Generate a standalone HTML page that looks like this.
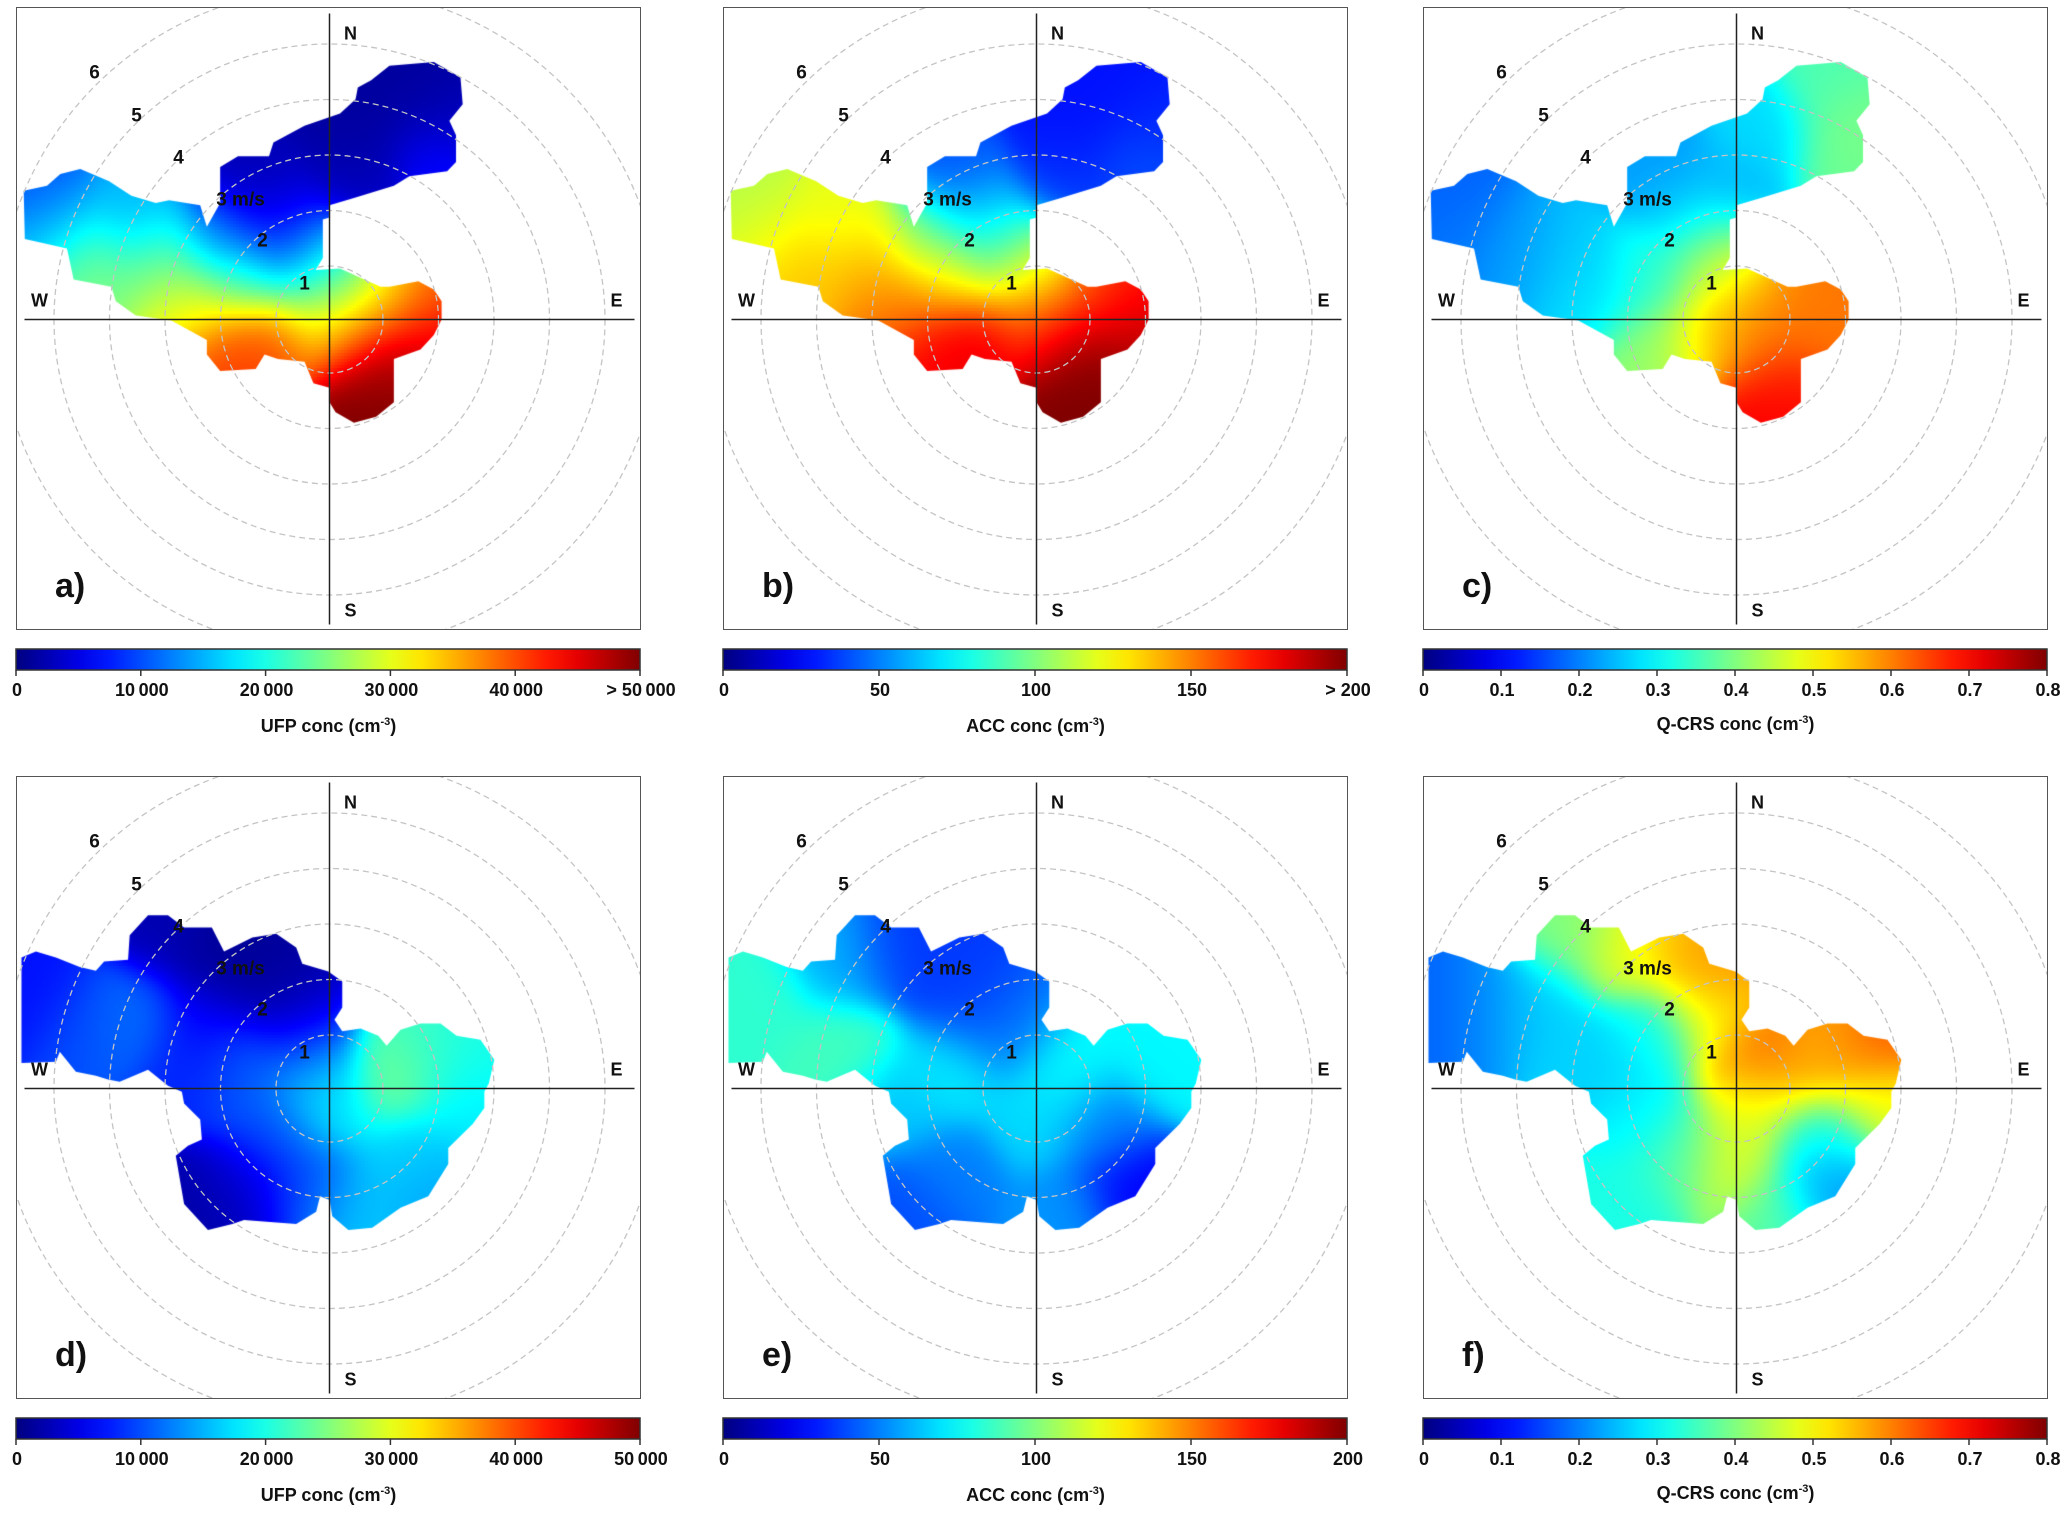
<!DOCTYPE html>
<html><head><meta charset="utf-8">
<style>
html,body{margin:0;padding:0;background:#fff;}
body{width:2067px;height:1515px;position:relative;overflow:hidden;font-family:"Liberation Sans Narrow","Liberation Sans",sans-serif;}
.box{position:absolute;width:625px;height:623px;border:1.5px solid #555;box-sizing:border-box;overflow:hidden;}
.box canvas,.box svg{position:absolute;left:0;top:0;}
.lbl{position:absolute;font-weight:bold;font-size:18px;color:#111;white-space:nowrap;transform:translateX(-50%);}
.ttl{position:absolute;font-weight:bold;font-size:18px;color:#111;white-space:nowrap;transform:translateX(-50%);}
</style></head>
<body>
<script>
// ---- data ----
const topShape=[[1.08,4.57],[1.88,4.64],[2.36,4.36],[2.40,3.88],[2.16,3.58],[2.28,3.32],[2.28,2.84],[2.12,2.67],[1.44,2.58],[1.16,2.41],[0.44,2.19],[0,2.06],[0,1.84],[-0.12,1.80],[-0.12,1.11],[-0.25,0.89],[0.19,0.92],[0.92,0.59],[1.08,0.59],[1.60,0.69],[1.88,0.54],[2.02,0.33],[2.02,0],[1.88,-0.28],[1.64,-0.54],[1.16,-0.71],[1.16,-1.49],[0.84,-1.75],[0.44,-1.86],[0.11,-1.67],[0,-1.49],[0,-1.23],[-0.29,-1.15],[-0.45,-0.76],[-0.93,-0.71],[-1.17,-0.63],[-1.33,-0.89],[-1.97,-0.93],[-2.21,-0.63],[-2.21,-0.37],[-2.85,-0.02],[-3.49,0.07],[-3.85,0.33],[-3.93,0.59],[-4.61,0.72],[-4.73,1.28],[-5.49,1.45],[-5.51,2.32],[-5.09,2.41],[-4.85,2.62],[-4.49,2.71],[-3.97,2.49],[-3.57,2.23],[-3.13,2.10],[-2.89,2.15],[-2.33,2.06],[-2.21,1.67],[-1.97,2.10],[-1.97,2.75],[-1.65,2.94],[-1.09,2.94],[-1.01,3.19],[-0.45,3.49],[0.19,3.71],[0.47,3.97],[0.51,4.18],[0.75,4.31]];
const botShape=[[-5.55,2.36],[-5.29,2.47],[-4.93,2.36],[-4.50,2.19],[-4.21,2.12],[-4.06,2.29],[-3.63,2.32],[-3.60,2.76],[-3.27,3.12],[-2.91,3.12],[-2.62,2.90],[-2.12,2.90],[-1.90,2.47],[-1.39,2.72],[-0.96,2.79],[-0.60,2.54],[-0.49,2.25],[-0.02,2.11],[0.23,1.93],[0.23,1.46],[0.09,1.24],[0.23,1.03],[0.56,1.08],[0.88,0.95],[1.03,0.77],[1.28,1.06],[1.64,1.17],[2.00,1.17],[2.29,0.95],[2.72,0.88],[2.97,0.52],[2.87,0.09],[2.79,-0.06],[2.79,-0.35],[2.58,-0.64],[2.14,-1.07],[2.14,-1.36],[1.78,-1.94],[1.28,-2.15],[0.77,-2.51],[0.34,-2.55],[0.05,-2.30],[0,-2.01],[-0.17,-1.94],[-0.24,-2.22],[-0.60,-2.44],[-1.54,-2.37],[-1.75,-2.44],[-2.19,-2.55],[-2.62,-2.08],[-2.77,-1.21],[-2.55,-1.03],[-2.30,-0.92],[-2.33,-0.56],[-2.62,-0.27],[-2.66,-0.06],[-2.91,0.05],[-3.27,0.34],[-3.78,0.12],[-3.99,0.16],[-4.21,0.23],[-4.57,0.30],[-4.86,0.66],[-4.93,0.48],[-5.55,0.46]];
// field control points [u(m/s east), v(m/s north), fraction of colour scale]
const fieldA=[[1.5,4.2,0.03],[2.1,3.6,0.05],[2.0,2.8,0.14],[0.5,3.3,0.03],[0.5,2.5,0.06],[-1.5,2.6,0.05],[-1.0,1.9,0.08],[-0.7,1.3,0.18],[-5.3,2.3,0.2],[-5.0,1.6,0.33],[-4.3,0.9,0.5],[-3.5,1.8,0.3],[-3.0,1.0,0.5],[-2.5,0.2,0.62],[-2.0,1.5,0.24],[-1.5,0.7,0.45],[-0.1,1.0,0.37],[0.0,0.5,0.45],[0.0,0.0,0.62],[1.0,0.5,0.62],[1.8,0.4,0.78],[0.5,-0.3,0.86],[-1.0,-0.4,0.8],[-1.8,-0.6,0.82],[1.0,-1.0,0.98],[0.6,-1.6,1.0],[1.8,-0.3,0.92]];
const fieldB=[[1.5,4.2,0.14],[2.1,3.6,0.16],[2.0,2.8,0.2],[0.5,3.3,0.14],[0.5,2.5,0.18],[-1.5,2.6,0.2],[-1.0,1.9,0.3],[-0.7,1.3,0.42],[-5.3,2.3,0.55],[-5.0,1.6,0.6],[-4.3,0.9,0.68],[-3.5,1.8,0.6],[-3.0,1.0,0.7],[-2.5,0.2,0.76],[-2.0,1.5,0.5],[-1.5,0.7,0.66],[-0.1,1.0,0.55],[0.0,0.5,0.66],[0.0,0.0,0.8],[1.0,0.5,0.8],[1.8,0.4,0.86],[0.5,-0.3,0.95],[-1.0,-0.4,0.9],[-1.8,-0.6,0.88],[1.0,-1.0,1.0],[0.6,-1.6,1.0],[1.8,-0.3,0.95]];
const fieldC=[[1.8,4.3,0.45],[2.2,3.5,0.5],[2.0,2.8,0.48],[0.5,3.3,0.34],[0.0,2.2,0.3],[-1.5,2.8,0.28],[-1.0,1.9,0.32],[-0.4,1.2,0.5],[-5.3,2.3,0.22],[-5.0,1.6,0.24],[-4.0,1.2,0.28],[-3.0,1.0,0.32],[-2.5,0.5,0.35],[-1.5,0.7,0.42],[-0.1,0.9,0.62],[0.2,0.2,0.72],[1.0,0.4,0.75],[1.8,0.3,0.76],[-1.5,-0.5,0.52],[-0.5,-0.3,0.66],[0.5,-0.5,0.78],[1.0,-1.3,0.86],[0.5,-1.7,0.88],[1.8,-0.3,0.76]];
const fieldD=[[-5.2,1.8,0.14],[-4.3,1.2,0.2],[-3.5,1.3,0.24],[-3.0,2.8,0.05],[-2.0,2.2,0.02],[-1.0,1.8,0.03],[-0.5,1.1,0.08],[-2.3,1.2,0.12],[-1.5,0.4,0.22],[-0.3,0.4,0.3],[0.0,-0.3,0.36],[1.2,0.3,0.5],[1.6,0.8,0.42],[2.4,0.5,0.4],[2.5,-0.3,0.36],[1.5,-1.3,0.34],[1.8,-1.8,0.28],[0.5,-2.2,0.32],[-1.0,-0.8,0.2],[-1.5,-1.8,0.08],[-2.3,-2.2,0.04],[-2.5,0.3,0.16],[-0.4,-1.8,0.2]];
const fieldE=[[-5.0,1.5,0.42],[-3.5,0.7,0.44],[-3.5,2.3,0.3],[-2.5,2.5,0.18],[-1.2,1.5,0.18],[-0.5,1.0,0.24],[-1.5,0.3,0.36],[0.5,0.3,0.38],[2.3,0.5,0.37],[0.0,-0.5,0.34],[1.2,-0.7,0.25],[1.7,-1.8,0.12],[-1.5,-1.5,0.25],[-2.3,-2.2,0.2],[0.5,-2.3,0.27],[-2.5,-0.3,0.32]];
const fieldF=[[-5.3,1.5,0.22],[-4.5,1.5,0.27],[-3.5,1.5,0.33],[-3.0,2.8,0.5],[-2.0,2.5,0.6],[-1.0,2.5,0.7],[-0.3,2.0,0.74],[-0.4,1.3,0.6],[-1.5,1.0,0.38],[-2.5,0.5,0.33],[0.4,0.6,0.8],[0.3,-0.2,0.6],[1.3,0.5,0.7],[1.8,0.9,0.72],[2.6,0.8,0.8],[2.6,-0.2,0.6],[1.5,-0.9,0.4],[1.6,-1.7,0.26],[0.7,-2.3,0.46],[0.0,-1.3,0.6],[-1.0,-1.2,0.47],[-2.0,-2.0,0.4],[-1.7,-0.6,0.36]];
const ticksUFP=["0","10\u2009000","20\u2009000","30\u2009000","40\u2009000","> 50\u2009000"];
const ticksUFP2=["0","10\u2009000","20\u2009000","30\u2009000","40\u2009000","50\u2009000"];
const ticksACC=["0","50","100","150","> 200"];
const ticksACC2=["0","50","100","150","200"];
const ticksQ=["0","0.1","0.2","0.3","0.4","0.5","0.6","0.7","0.8"];
const rings=[1,2,3,4,5,6];
const ringLabels=["1","2","3 m/s","4","5","6"];

const panels=[
 {id:'a',x:16,y:7,shape:topShape,field:fieldA,ticks:ticksUFP,title:'UFP conc (cm'},
 {id:'b',x:723,y:7,shape:topShape,field:fieldB,ticks:ticksACC,title:'ACC conc (cm'},
 {id:'c',x:1423,y:7,shape:topShape,field:fieldC,ticks:ticksQ,title:'Q-CRS conc (cm'},
 {id:'d',x:16,y:776,shape:botShape,field:fieldD,ticks:ticksUFP2,title:'UFP conc (cm'},
 {id:'e',x:723,y:776,shape:botShape,field:fieldE,ticks:ticksACC2,title:'ACC conc (cm'},
 {id:'f',x:1423,y:776,shape:botShape,field:fieldF,ticks:ticksQ,title:'Q-CRS conc (cm'}
];
const W=625,H=623,CX=312.5,CY=311.5,S=55.5;
function sx(u){return CX+u*S;}
function sy(v){return CY-v*S;}
function jet(t){t=Math.max(0,Math.min(1,t));
 const r=Math.max(0,Math.min(1,1.5-Math.abs(4*t-3))),g=Math.max(0,Math.min(1,1.5-Math.abs(4*t-2))),b=Math.max(0,Math.min(1,1.5-Math.abs(4*t-1)));
 return 'rgb('+Math.round(r*255)+','+Math.round(g*255)+','+Math.round(b*255)+')';}
function valAt(field,u,v){let ws=0,s=0;for(const p of field){const d2=(p[0]-u)**2+(p[1]-v)**2;const w=Math.exp(-d2/0.6)+1e-12;ws+=w;s+=w*p[2];}return s/ws;}
const NS='http://www.w3.org/2000/svg';
function se(tag,attrs,parent){const e=document.createElementNS(NS,tag);for(const k in attrs)e.setAttribute(k,attrs[k]);parent.appendChild(e);return e;}

panels.forEach(p=>{
 const box=document.createElement('div');box.className='box';box.style.left=p.x+'px';box.style.top=p.y+'px';
 
 
 document.body.appendChild(box);
 const cv=document.createElement('canvas');cv.width=W;cv.height=H;
 
 
 box.appendChild(cv);
 const ctx=cv.getContext('2d');
 ctx.beginPath();p.shape.forEach((q,i)=>{const X=sx(q[0]),Y=sy(q[1]);i?ctx.lineTo(X,Y):ctx.moveTo(X,Y);});ctx.closePath();ctx.clip();
 const st=3;
 for(let py=0;py<H;py+=st)for(let px=0;px<W;px+=st){const u=(px+st/2-CX)/S,v=(CY-py-st/2)/S;ctx.fillStyle=jet(valAt(p.field,u,v));ctx.fillRect(px,py,st,st);}
 const svg=se('svg',{width:W,height:H},box);
 
 
 rings.forEach(r=>{const c=se('circle',{cx:CX,cy:CY,r:r*S-2,fill:'none',stroke:'#c4c4c4','stroke-width':1.3,'stroke-dasharray':'6 4'},svg);
  
  });
 const l1=se('line',{x1:CX,y1:CY-306,x2:CX,y2:CY+305,stroke:'#222','stroke-width':1.5},svg);
 
 
 const l2=se('line',{x1:CX-305,y1:CY,x2:CX+305,y2:CY,stroke:'#222','stroke-width':1.5},svg);
 
 
 const rl=[[-25,-37],[-67,-80],[-89,-121],[-151,-163],[-193,-205],[-235,-248]];
 ringLabels.forEach((t,i)=>{const tx=se('text',{x:CX+rl[i][0],y:CY+rl[i][1]+7,'text-anchor':'middle','font-size':19,'font-weight':'bold','font-family':'Liberation Sans,sans-serif',fill:'#111'},svg);tx.textContent=t;
  
  });
 [['N',21,-287],['S',21,290],['W',-290,-20],['E',287,-20]].forEach(d=>{const tx=se('text',{x:CX+d[1],y:CY+d[2]+7,'text-anchor':'middle','font-size':18,'font-weight':'bold','font-family':'Liberation Sans,sans-serif',fill:'#111'},svg);tx.textContent=d[0];
  
  });
 const pl=se('text',{x:38,y:589,'font-size':34,'font-weight':'bold','font-family':'Liberation Sans,sans-serif',fill:'#111'},svg);pl.textContent=p.id+')';
 
 
 // colorbar
 const cby=p.y+641;
 const cb=document.createElementNS(NS,'svg');cb.setAttribute('width',W+4);cb.setAttribute('height',32);cb.style.position='absolute';cb.style.left=(p.x-1)+'px';cb.style.top=cby+'px';
 
 
 document.body.appendChild(cb);
 const defs=se('defs',{},cb);const lg=se('linearGradient',{id:'g'+p.id,x1:0,x2:1,y1:0,y2:0},defs);
 for(let i=0;i<=20;i++)se('stop',{offset:i/20,'stop-color':jet(i/20)},lg);
 se('rect',{x:1,y:1,width:W-1,height:21,fill:'url(#g'+p.id+')',stroke:'#333','stroke-width':1.5},cb);
 const n=p.ticks.length-1;
 p.ticks.forEach((t,i)=>{const X=1+i*(W-1)/n;const tk=se('line',{x1:X,y1:22,x2:X,y2:28,stroke:'#333','stroke-width':1.5},cb);
  
  
  const lb=document.createElement('div');lb.className='lbl';lb.textContent=t;lb.style.left=(p.x+X)+'px';lb.style.top=(cby+32)+'px';
  
  
  document.body.appendChild(lb);});
 const ti=document.createElement('div');ti.className='ttl';ti.innerHTML=p.title+'<sup style="font-size:11px">-3</sup>)';ti.style.left=(p.x+W/2)+'px';ti.style.top=(cby+(p.id==='c'||p.id==='f'?66:68))+'px';
 
 
 document.body.appendChild(ti);
});
</script>
</body></html>
